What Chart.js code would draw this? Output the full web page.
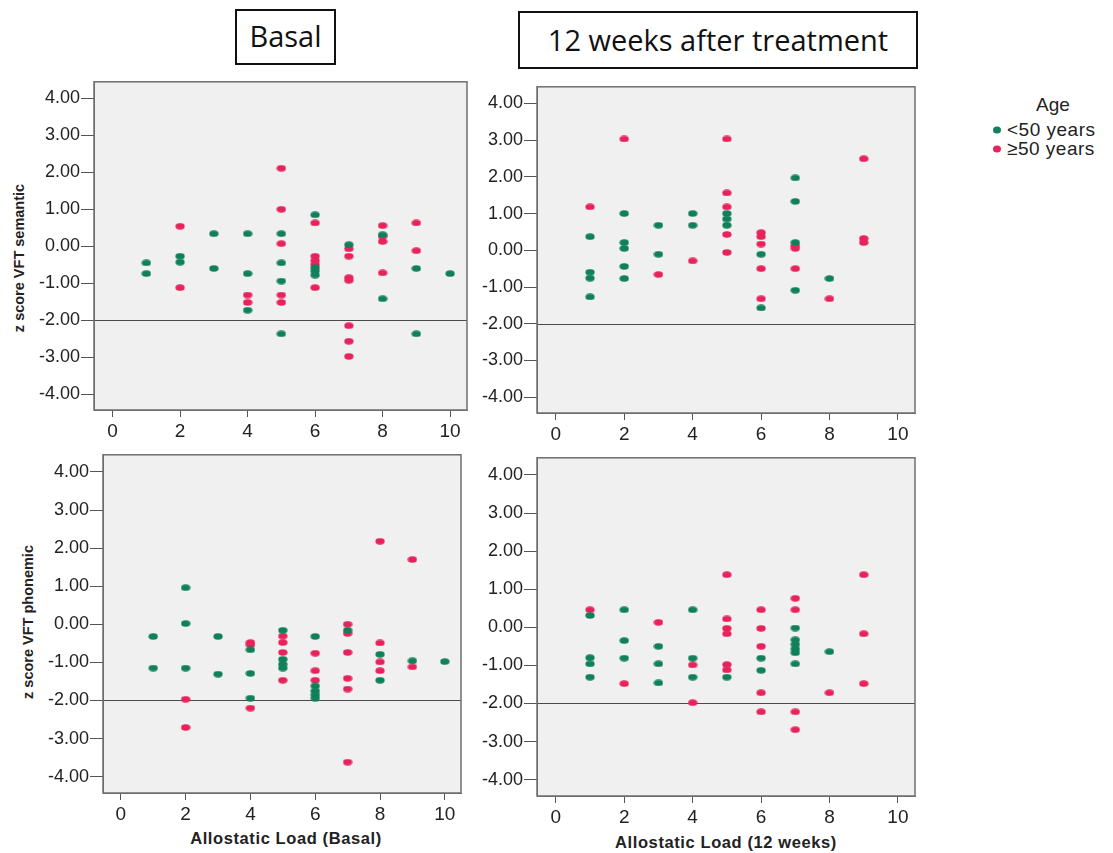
<!DOCTYPE html>
<html>
<head>
<meta charset="utf-8">
<script src="https://cdn.jsdelivr.net/npm/chart.js@4/dist/chart.umd.min.js"></script>
<style>
body { margin: 0; background: #fff; width: 1113px; height: 853px; position: relative; overflow: hidden;
       font-family: "Liberation Sans", Arial, sans-serif; color: #111; }
.panel { position: absolute; }
.box { position: absolute; border: 2px solid #111; box-sizing: border-box; font-family: "Open Sans", sans-serif;
       font-size: 29px; text-align: center; color: #111; }
.ytitle { position: absolute; transform: translate(-50%, -50%) rotate(-90deg); white-space: nowrap;
          font-weight: bold; font-size: 14.5px; color: #222; }
.xtitle { position: absolute; transform: translate(-50%, -50%); white-space: nowrap;
          font-weight: bold; font-size: 16.5px; letter-spacing: 0.6px; color: #222; }
.leg { position: absolute; font-size: 19px; color: #222; white-space: nowrap; transform: translateY(-50%); }
.dot { position: absolute; width: 8px; height: 7px; border-radius: 50%; transform: translate(-50%, -50%); }
</style>
</head>
<body>

<div class="box" style="left:235px;top:9px;width:101px;height:56px;line-height:50px;">Basal</div>
<div class="box" style="left:518px;top:11px;width:400px;height:58px;line-height:54px;">12 weeks after treatment</div>

<div class="ytitle" style="left:19px;top:258px;">z score VFT semantic</div>
<div class="ytitle" style="left:28px;top:622px;">z score VFT phonemic</div>
<div class="xtitle" style="left:286px;top:838px;">Allostatic Load (Basal)</div>
<div class="xtitle" style="left:726px;top:842px;">Allostatic Load (12 weeks)</div>

<div class="leg" style="left:1036px;top:105px;">Age</div>
<div class="dot" style="left:997px;top:130px;background:#10805a;"></div>
<div class="leg" style="left:1007px;top:130px;letter-spacing:0.5px;">&lt;50 years</div>
<div class="dot" style="left:997px;top:149px;background:#e8225c;"></div>
<div class="leg" style="left:1007px;top:149px;letter-spacing:0.5px;">≥50 years</div>

<div class="panel" id="p1"><canvas id="c1"></canvas></div>
<div class="panel" id="p2"><canvas id="c2"></canvas></div>
<div class="panel" id="p3"><canvas id="c3"></canvas></div>
<div class="panel" id="p4"><canvas id="c4"></canvas></div>

<script>
// age groups
const groups = ['<50 years', '≥50 years'];
const groupColors = ['#10805a', '#e8225c'];

// axis ticks
const xTicks = [0, 2, 4, 6, 8, 10];
const yTicks = [4, 3, 2, 1, 0, -1, -2, -3, -4];
const xMin = -0.55, xMax = 10.5;
const yMin = -4.43, yMax = 4.45;
const refLine = -2;

// semantic VFT, basal
const semBasalLoadYoung = [1,1,2,2,3,3,4,4,4,5,5,5,5,6,6,6,6,7,8,8,9,9,10];
const semBasalZYoung = [-0.45,-0.74,-0.27,-0.43,0.34,-0.60,0.34,-0.74,-1.73,0.34,-0.45,-0.94,-2.37,0.85,-0.58,-0.67,-0.78,0.04,0.31,-1.42,-0.60,-2.37,-0.74];
const semBasalLoadOld = [2,2,4,4,5,5,5,5,5,6,6,6,6,6,7,7,7,7,7,7,7,8,8,8,8,9,9];
const semBasalZOld = [0.54,-1.12,-1.32,-1.52,2.11,1.00,0.07,-1.32,-1.52,0.63,-0.27,-0.39,-0.49,-1.12,-0.07,-0.27,-0.85,-0.92,-2.15,-2.57,-2.98,0.56,0.27,0.13,-0.72,0.63,-0.12];

// semantic VFT, 12 weeks
const sem12LoadYoung = [1,1,1,1,2,2,2,2,2,3,3,4,4,5,5,5,6,6,7,7,7,7,8];
const sem12ZYoung = [0.37,-0.60,-0.76,-1.27,1.00,0.21,0.05,-0.44,-0.77,0.68,-0.11,1.00,0.68,1.00,0.85,0.68,-0.11,-1.57,1.97,1.33,0.21,-1.09,-0.77];
const sem12LoadOld = [1,2,3,4,5,5,5,5,5,6,6,6,6,6,7,7,7,8,9,9,9];
const sem12ZOld = [1.18,3.03,-0.66,-0.29,3.03,1.56,1.18,0.43,-0.06,0.48,0.37,0.17,-0.50,-1.32,0.12,0.05,-0.50,-1.32,2.49,0.32,0.21];

// phonemic VFT, basal
const phonBasalLoadYoung = [1,1,2,2,2,3,3,4,4,4,5,5,5,5,6,6,6,6,6,7,8,8,9,10];
const phonBasalZYoung = [-0.32,-1.15,0.96,0.02,-1.15,-0.32,-1.31,-0.67,-1.29,-1.94,-0.16,-0.92,-1.05,-1.15,-0.32,-1.62,-1.75,-1.85,-1.94,-0.16,-0.79,-1.47,-0.96,-0.98];
const phonBasalLoadOld = [2,2,4,4,4,5,5,5,5,6,6,6,7,7,7,7,7,7,8,8,8,8,9,9];
const phonBasalZOld = [-1.97,-2.71,-0.48,-0.54,-2.20,-0.31,-0.48,-0.74,-1.47,-0.76,-1.22,-1.47,0.00,-0.24,-0.74,-1.42,-1.70,-3.62,2.18,-0.49,-0.99,-1.22,1.70,-1.12];

// phonemic VFT, 12 weeks
const phon12LoadYoung = [1,1,1,1,2,2,2,3,3,3,4,4,4,5,6,6,7,7,7,7,7,7,8];
const phon12ZYoung = [0.31,-0.80,-0.96,-1.31,0.46,-0.35,-0.81,-0.50,-0.96,-1.46,0.46,-0.81,-1.31,-1.31,-0.81,-1.13,-0.02,-0.33,-0.45,-0.57,-0.67,-0.96,-0.64];
const phon12LoadOld = [1,2,3,4,4,5,5,5,5,5,5,6,6,6,6,6,7,7,7,7,8,9,9,9];
const phon12ZOld = [0.46,-1.48,0.13,-0.99,-1.98,1.38,0.22,-0.03,-0.17,-0.98,-1.12,0.46,-0.03,-0.50,-1.72,-2.22,0.76,0.46,-2.22,-2.69,-1.72,1.38,-0.17,-1.48];

const FONT = '"Liberation Sans", Arial, sans-serif';

// slightly flattened dot, like the SPSS markers
function ellipseMarker(color) {
  const c = document.createElement('canvas');
  c.width = 10; c.height = 7;
  const g = c.getContext('2d');
  g.fillStyle = color;
  g.beginPath();
  g.ellipse(5, 3.5, 4.6, 3.3, 0, 0, Math.PI * 2);
  g.fill();
  return c;
}
const markers = groupColors.map(ellipseMarker);

// background, reference line and frame
const framePlugin = {
  id: 'frame',
  beforeDraw(chart) {
    const { ctx, chartArea: a } = chart;
    ctx.save();
    ctx.fillStyle = '#f0f0f0';
    ctx.fillRect(a.left, a.top, a.right - a.left, a.bottom - a.top);
    ctx.restore();
  },
  beforeDatasetsDraw(chart) {
    const { ctx, chartArea: a, scales } = chart;
    const y = Math.round(scales.y.getPixelForValue(refLine)) + 0.5;
    ctx.save();
    ctx.strokeStyle = '#4a4a4a';
    ctx.lineWidth = 1;
    ctx.beginPath();
    ctx.moveTo(a.left, y);
    ctx.lineTo(a.right, y);
    ctx.stroke();
    ctx.restore();
  },
  afterDraw(chart) {
    const { ctx, chartArea: a } = chart;
    ctx.save();
    ctx.strokeStyle = '#6e6e6e';
    ctx.lineWidth = 1.5;
    ctx.strokeRect(a.left, a.top, a.right - a.left, a.bottom - a.top);
    ctx.restore();
  }
};

function pairs(xs, ys) {
  return xs.map((x, i) => ({ x: x, y: ys[i] }));
}

function makePanel(id, frame, young, old) {
  const padL = 80, padT = 10, padR = 10, padB = 42;
  const box = document.getElementById('p' + id);
  box.style.left = (frame.l - padL) + 'px';
  box.style.top = (frame.t - padT) + 'px';
  box.style.width = (frame.r - frame.l + padL + padR) + 'px';
  box.style.height = (frame.b - frame.t + padT + padB) + 'px';

  return new Chart(document.getElementById('c' + id), {
    type: 'scatter',
    data: {
      datasets: [
        { label: groups[0], data: pairs(young[0], young[1]), backgroundColor: groupColors[0],
          pointStyle: markers[0], pointRadius: 4, borderWidth: 0 },
        { label: groups[1], data: pairs(old[0], old[1]), backgroundColor: groupColors[1],
          pointStyle: markers[1], pointRadius: 4, borderWidth: 0 }
      ]
    },
    options: {
      responsive: true,
      maintainAspectRatio: false,
      animation: false,
      events: [],
      layout: { autoPadding: false, padding: { top: padT, right: padR, left: 0, bottom: 0 } },
      plugins: { legend: { display: false }, tooltip: { enabled: false } },
      scales: {
        x: {
          type: 'linear', min: xMin, max: xMax,
          afterBuildTicks: s => { s.ticks = xTicks.map(v => ({ value: v })); },
          afterFit: s => { s.height = padB; },
          grid: { drawOnChartArea: false, drawTicks: true, tickLength: 7, color: '#555', lineWidth: 1 },
          border: { display: true, color: '#6e6e6e' },
          ticks: { padding: 3, color: '#222', font: { family: FONT, size: 19 },
                   maxRotation: 0, autoSkip: false, callback: v => String(v) }
        },
        y: {
          type: 'linear', min: yMin, max: yMax,
          afterBuildTicks: s => { s.ticks = yTicks.map(v => ({ value: v })); },
          afterFit: s => { s.width = padL; },
          grid: { drawOnChartArea: false, drawTicks: true, tickLength: 13, color: '#555', lineWidth: 1 },
          border: { display: true, color: '#6e6e6e' },
          ticks: { padding: 1, color: '#222', font: { family: FONT, size: 18 },
                   autoSkip: false, callback: v => Number(v).toFixed(2) }
        }
      }
    },
    plugins: [framePlugin]
  });
}

makePanel(1, { l: 94, t: 80, r: 467, b: 410 },
  [semBasalLoadYoung, semBasalZYoung], [semBasalLoadOld, semBasalZOld]);
makePanel(2, { l: 537, t: 85, r: 915, b: 413 },
  [sem12LoadYoung, sem12ZYoung], [sem12LoadOld, sem12ZOld]);
makePanel(3, { l: 103, t: 453, r: 461, b: 793 },
  [phonBasalLoadYoung, phonBasalZYoung], [phonBasalLoadOld, phonBasalZOld]);
makePanel(4, { l: 537, t: 456, r: 915, b: 796 },
  [phon12LoadYoung, phon12ZYoung], [phon12LoadOld, phon12ZOld]);
</script>
</body>
</html>
